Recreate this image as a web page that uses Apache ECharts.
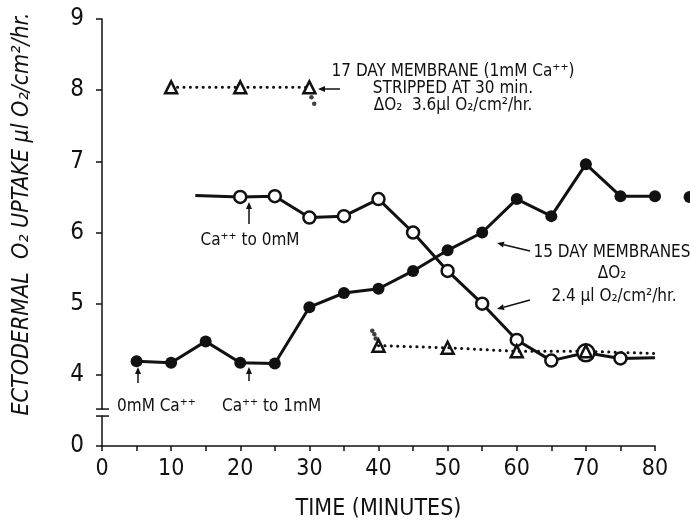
<!DOCTYPE html>
<html>
<head>
<meta charset="utf-8">
<script src="https://cdn.jsdelivr.net/npm/echarts@6/dist/echarts.min.js"></script>
<style>
  html, body { margin: 0; background: #fff; }
  #chart { width: 690px; height: 531px; }
</style>
</head>
<body>
<div id="chart"></div>
<script>
var FONT = "'Liberation Sans Narrow','DejaVu Sans Condensed','Liberation Sans',sans-serif";
var INK = '#111';

// 15 day membranes, Ca++ 0 -> 1mM (filled circles)
var filledTimes  = [5, 10, 15, 20, 25, 30, 35, 40, 45, 50, 55, 60, 65, 70, 75, 80, 85];
var filledValues = [4.19, 4.17, 4.47, 4.17, 4.16, 4.95, 5.15, 5.21, 5.46, 5.75, 6.0, 6.47, 6.23, 6.96, 6.51, 6.51, 6.5];

// 15 day membranes, Ca++ 1 -> 0mM (open circles); first and last are line ends only
var openTimes  = [13.5, 20, 25, 30, 35, 40, 45, 50, 55, 60, 65, 70, 75, 80];
var openValues = [6.52, 6.5, 6.51, 6.21, 6.23, 6.47, 6.0, 5.46, 5.0, 4.49, 4.2, 4.31, 4.23, 4.24];

// 17 day membrane (triangles), before and after stripping
var triTimesA  = [10, 20, 30];
var triValuesA = [8.04, 8.04, 8.04];
var triTimesB  = [40, 50, 60, 70, 80];
var triValuesB = [4.41, 4.38, 4.33, 4.33, 4.3];

// loose dots where the trace drops after stripping
var dropTimes  = [30.3, 30.7, 39.1, 39.4, 39.6];
var dropValues = [7.9, 7.81, 4.62, 4.57, 4.51];

var xTicks = [0, 10, 20, 30, 40, 50, 60, 70, 80];

function pairs(xs, ys) {
  return xs.map(function (x, i) { return [x, ys[i]]; });
}

var openData = pairs(openTimes, openValues).map(function (p, i) {
  var item = { value: p };
  if (i === 0 || i === openTimes.length - 1) item.symbol = 'none';
  if (p[0] === 70) item.symbolSize = 17;
  return item;
});
var triDataB = pairs(triTimesB, triValuesB).map(function (p, i) {
  var item = { value: p };
  if (i === triTimesB.length - 1) item.symbol = 'none';
  return item;
});

var myChart = echarts.init(document.getElementById('chart'));

var dotted = { color: INK, width: 3, type: [0.1, 6.3], cap: 'round' };

myChart.setOption({
  animation: false,
  grid: { left: 102, top: 19, right: 35, bottom: 85 },
  xAxis: {
    type: 'value',
    min: 0, max: 80, interval: 5,
    name: 'TIME (MINUTES)',
    nameLocation: 'middle',
    nameGap: 52,
    nameTextStyle: { fontFamily: FONT, fontSize: 23, color: INK },
    axisLine: { lineStyle: { color: INK, width: 1.5 } },
    axisTick: { length: 5, lineStyle: { color: INK, width: 1.5 } },
    axisLabel: {
      margin: 12, fontFamily: FONT, fontSize: 23, color: INK,
      formatter: function (v) { return xTicks.indexOf(v) >= 0 ? String(v) : ''; }
    },
    splitLine: { show: false }
  },
  yAxis: {
    type: 'value',
    min: 3, max: 9, interval: 1,
    axisLine: { show: true, lineStyle: { color: INK, width: 1.5 } },
    axisTick: { show: true, length: 6, lineStyle: { color: INK, width: 1.5 } },
    axisLabel: {
      margin: 18, fontFamily: FONT, fontSize: 24, color: INK,
      // axis is broken below 4: the lowest tick stands for zero
      formatter: function (v) { return v === 3 ? '0' : String(v); }
    },
    splitLine: { show: false }
  },
  series: [
    {
      type: 'line', data: pairs(filledTimes, filledValues), clip: false,
      symbol: 'circle', symbolSize: 12,
      itemStyle: { color: INK },
      lineStyle: { color: INK, width: 3 }
    },
    {
      type: 'line', data: openData, clip: false,
      symbol: 'circle', symbolSize: 12, showAllSymbol: true,
      itemStyle: { color: '#fff', borderColor: INK, borderWidth: 2.5 },
      lineStyle: { color: INK, width: 3 }
    },
    {
      type: 'line', data: pairs(triTimesA, triValuesA),
      symbol: 'triangle', symbolSize: 12,
      itemStyle: { color: '#fff', borderColor: INK, borderWidth: 2.5 },
      lineStyle: dotted, z: 3
    },
    {
      type: 'line', data: triDataB,
      symbol: 'triangle', symbolSize: 12,
      itemStyle: { color: 'rgba(255,255,255,0)', borderColor: INK, borderWidth: 2.5 },
      lineStyle: dotted, z: 3
    },
    {
      type: 'scatter', data: pairs(dropTimes, dropValues),
      symbol: 'circle', symbolSize: 4.5,
      itemStyle: { color: INK }
    }
  ]
});

function txt(x, y, s, align, size) {
  return {
    type: 'text', x: x, y: y,
    style: {
      text: s, fill: INK, fontFamily: FONT, fontSize: size || 17,
      align: align || 'center', verticalAlign: 'middle'
    }
  };
}

function arrow(x1, y1, x2, y2) {
  var a = Math.atan2(y2 - y1, x2 - x1), L = 7, W = 3;
  var bx = x2 - L * Math.cos(a), by = y2 - L * Math.sin(a);
  var nx = -Math.sin(a) * W, ny = Math.cos(a) * W;
  return {
    type: 'group',
    children: [
      { type: 'line', shape: { x1: x1, y1: y1, x2: bx, y2: by }, style: { stroke: INK, lineWidth: 1.5 } },
      { type: 'polygon', shape: { points: [[x2, y2], [bx + nx, by + ny], [bx - nx, by - ny]] }, style: { fill: INK } }
    ]
  };
}

// axis break marks between 0 and 4
var breakPt = myChart.convertToPixel({ gridIndex: 0 }, [0, 3.47]);
var axisX = breakPt[0], breakY = breakPt[1];

myChart.setOption({
  graphic: [
    { type: 'rect', shape: { x: axisX - 2, y: breakY - 3, width: 4, height: 6 }, style: { fill: '#fff' }, z: 10 },
    { type: 'line', shape: { x1: axisX - 6, y1: breakY - 3.5, x2: axisX + 7, y2: breakY - 3.5 }, style: { stroke: INK, lineWidth: 1.5 }, z: 10 },
    { type: 'line', shape: { x1: axisX - 6, y1: breakY + 3.5, x2: axisX + 7, y2: breakY + 3.5 }, style: { stroke: INK, lineWidth: 1.5 }, z: 10 },

    {
      type: 'text', x: 22, y: 214, rotation: Math.PI / 2,
      style: {
        text: 'ECTODERMAL  O\u2082 UPTAKE \u03bcl O\u2082/cm\u00b2/hr.',
        fill: INK, fontFamily: FONT, fontSize: 23, fontStyle: 'italic',
        align: 'center', verticalAlign: 'middle'
      }
    },

    txt(453, 72, '17 DAY MEMBRANE (1mM Ca\u207a\u207a)'),
    txt(453, 89, 'STRIPPED AT 30 min.'),
    txt(453, 106, '\u0394O\u2082  3.6\u03bcl O\u2082/cm\u00b2/hr.'),
    arrow(340, 89, 318, 89),

    txt(612, 253, '15 DAY MEMBRANES'),
    txt(612, 274, '\u0394O\u2082'),
    txt(614, 297, '2.4 \u03bcl O\u2082/cm\u00b2/hr.'),
    arrow(530, 251, 497, 243),
    arrow(530, 300, 497, 309),

    txt(250, 241, 'Ca\u207a\u207a to 0mM'),
    arrow(249, 224, 249, 202),

    txt(117, 407, '0mM Ca\u207a\u207a', 'left'),
    arrow(138, 383, 138, 367),
    txt(222, 407, 'Ca\u207a\u207a to 1mM', 'left'),
    arrow(249, 381, 249, 367)
  ]
});
</script>
</body>
</html>
